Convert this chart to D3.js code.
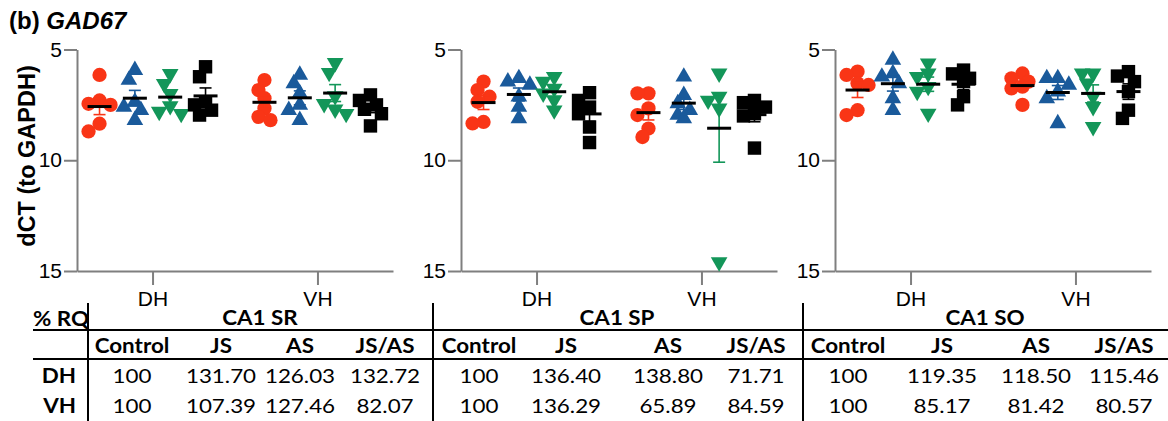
<!DOCTYPE html>
<html lang="en">
<head>
    <meta charset="UTF-8">
    <title>GAD67</title>
    <script src="https://d3js.org/d3.v7.min.js"></script>
    <style>
        body {
            margin: 0;
            background: #fff;
        }
        .axis path, .axis line {
            stroke: #7f7f7f;
            stroke-width: 2;
        }
        .axis text {
            font-family: "Liberation Sans", Arial, sans-serif;
            font-size: 21px;
            fill: #000;
        }
    </style>
</head>
<body>
    <div id="chart"></div>

    <script>
        // categories
        const regions = ["CA1 SR", "CA1 SP", "CA1 SO"];
        const sites = ["DH", "VH"];
        const groups = ["Control", "JS", "AS", "JS/AS"];
        const yTicks = [5, 10, 15];

        // dCT values per region: [site][group] -> animals
        const dctSR = [
            [[6.15, 7.3, 7.45, 7.5, 8.35, 8.7],
             [5.93, 6.38, 7.36, 7.59, 7.74, 8.19],
             [6.1, 6.55, 7.0, 7.55, 7.8, 7.9],
             [5.78, 6.23, 7.36, 7.5, 7.74, 7.96]],
            [[6.38, 6.83, 7.2, 7.66, 8.04, 8.19],
             [6.15, 6.53, 6.98, 7.5, 7.74, 8.19],
             [5.6, 6.05, 7.1, 7.45, 7.7, 7.9],
             [7.05, 7.3, 7.5, 7.7, 7.9, 8.45]]
        ];
        const dctSP = [
            [[6.45, 6.83, 7.13, 7.36, 8.27, 8.34],
             [6.3, 6.45, 6.6, 7.13, 7.59, 8.11],
             [6.23, 6.45, 6.76, 6.98, 7.28, 7.74],
             [6.95, 7.3, 7.6, 7.9, 8.5, 9.2]],
            [[6.98, 6.98, 7.66, 7.96, 8.57, 8.95],
             [6.23, 7.06, 7.43, 7.74, 7.96, 8.11],
             [6.08, 7.13, 7.3, 7.66, 14.6],
             [7.3, 7.4, 7.6, 7.9, 8.0, 9.45]]
        ];
        const dctSO = [
            [[6.0, 6.15, 6.53, 6.6, 7.74, 7.96],
             [5.47, 6.08, 6.23, 6.53, 7.21, 7.74],
             [5.62, 6.08, 6.23, 6.68, 6.9, 7.89],
             [5.93, 6.1, 6.3, 6.45, 7.13, 7.5]],
            [[6.08, 6.3, 6.45, 6.68, 6.76, 7.5],
             [6.3, 6.3, 6.6, 6.9, 7.21, 8.34],
             [6.08, 6.08, 6.53, 7.13, 7.59, 8.49],
             [6.0, 6.2, 6.45, 6.9, 7.74, 8.11]]
        ];

        // % RQ table: [site][group]
        const rqSR = [[100, 131.70, 126.03, 132.72], [100, 107.39, 127.46, 82.07]];
        const rqSP = [[100, 136.40, 138.80, 71.71], [100, 136.29, 65.89, 84.59]];
        const rqSO = [[100, 119.35, 118.50, 115.46], [100, 85.17, 81.42, 80.57]];

        const dctAll = [dctSR, dctSP, dctSO];
        const rqAll = [rqSR, rqSP, rqSO];

        const colors = ["#f93516", "#1a5a9b", "#139659", "#000000"];
        const shapes = [d3.symbolCircle, d3.symbolTriangle, d3.symbolTriangle, d3.symbolSquare];
        const sizes = [160, 120, 120, 180];
        const turns = [0, 0, 180, 0];

        const width = 1168;
        const height = 421;
        const panelX = [77, 461, 835];
        const panelW = 316;

        const svg = d3.select("#chart")
            .append("svg")
            .attr("width", width)
            .attr("height", height);

        const y = d3.scaleLinear().domain([5, 15]).range([49.5, 271]);

        // Titolo
        const title = svg.append("text")
            .attr("x", 9)
            .attr("y", 29)
            .attr("font-family", "'Liberation Sans', Arial, sans-serif")
            .attr("font-size", "24px")
            .attr("font-weight", "bold");
        title.append("tspan").text("(b) ");
        title.append("tspan").attr("font-style", "italic").text("GAD67");

        svg.append("text")
            .attr("transform", "translate(35,156) rotate(-90)")
            .attr("text-anchor", "middle")
            .attr("font-family", "'Liberation Sans', Arial, sans-serif")
            .attr("font-size", "23.5px")
            .attr("font-weight", "bold")
            .text("dCT (to GAPDH)");

        // spread points of one column sideways when they overlap
        function dodge(values) {
            const slots = [0, -6, 6, -11, 11];
            const placed = [];
            return values.map(v => {
                const py = y(v);
                const dx = slots.find(s => placed.every(p => Math.hypot(p.dx - s, p.py - py) > 10)) ?? 0;
                placed.push({ dx, py });
                return { v, dx };
            });
        }

        dctAll.forEach((region, p) => {
            const g = svg.append("g").attr("transform", `translate(${panelX[p]},0)`);

            const x = d3.scalePoint().domain(sites).range([0, panelW]).padding(0.458);
            const col = d3.scalePoint().domain(groups).range([-53, 53]);

            g.append("g")
                .attr("class", "axis")
                .call(d3.axisLeft(y).tickValues(yTicks).tickSize(13).tickSizeOuter(0).tickPadding(2));

            g.append("g")
                .attr("class", "axis")
                .attr("transform", `translate(0,${y(15)})`)
                .call(d3.axisBottom(x).tickSize(14).tickSizeOuter(0).tickPadding(6));

            sites.forEach((site, si) => {
                groups.forEach((grp, gi) => {
                    const vals = region[si][gi];
                    const cx = x(site) + col(grp);
                    const sym = d3.symbol().type(shapes[gi]).size(sizes[gi]);

                    // Punti
                    g.selectAll(null)
                        .data(dodge(vals))
                        .enter()
                        .append("path")
                        .attr("d", sym)
                        .attr("fill", colors[gi])
                        .attr("transform", d => `translate(${cx + d.dx},${y(d.v)}) rotate(${turns[gi]})`);

                    // media e SEM
                    const mean = d3.mean(vals);
                    const sem = d3.deviation(vals) / Math.sqrt(vals.length);
                    const eb = g.append("g").attr("stroke", colors[gi]).attr("stroke-width", 1.6);
                    eb.append("line")
                        .attr("x1", cx).attr("x2", cx)
                        .attr("y1", y(mean - sem)).attr("y2", y(mean + sem));
                    [mean - sem, mean + sem].forEach(m => {
                        eb.append("line")
                            .attr("x1", cx - 6).attr("x2", cx + 6)
                            .attr("y1", y(m)).attr("y2", y(m));
                    });
                    g.append("line")
                        .attr("x1", cx - 12).attr("x2", cx + 12)
                        .attr("y1", y(mean)).attr("y2", y(mean))
                        .attr("stroke", "#000")
                        .attr("stroke-width", 3);
                });
            });
        });

        // Tabella % RQ
        const tbl = svg.append("g")
            .attr("font-family", "Lato, 'Open Sans', sans-serif")
            .attr("font-size", "20px")
            .attr("fill", "#000");
        const sx = 1.12;
        const vLines = [88, 433, 803];
        const regionCx = [260, 617, 985];
        const colCx = [[132, 221, 300, 385], [479, 566, 668, 756], [848, 942, 1036, 1124]];
        const rowY = [383, 413];

        function put(x0, y0, str, anchor, bold) {
            tbl.append("text")
                .attr("transform", `translate(${x0},${y0}) scale(${sx},1)`)
                .attr("text-anchor", anchor)
                .attr("font-weight", bold ? "bold" : "normal")
                .text(str);
        }

        [330, 359].forEach(ly => {
            tbl.append("line")
                .attr("x1", 33).attr("x2", width)
                .attr("y1", ly).attr("y2", ly)
                .attr("stroke", "#000").attr("stroke-width", 2);
        });
        vLines.forEach(lx => {
            tbl.append("line")
                .attr("x1", lx).attr("x2", lx)
                .attr("y1", 303).attr("y2", height)
                .attr("stroke", "#000").attr("stroke-width", 2);
        });

        put(33, 326, "% RQ", "start", true);
        sites.forEach((s, si) => put(76, rowY[si], s, "end", true));

        rqAll.forEach((rq, p) => {
            put(regionCx[p], 325, regions[p], "middle", true);
            groups.forEach((grp, gi) => {
                put(colCx[p][gi], 353, grp, "middle", true);
                rq.forEach((row, si) => {
                    const v = row[gi];
                    put(colCx[p][gi], rowY[si], v === 100 ? "100" : v.toFixed(2), "middle", false);
                });
            });
        });
    </script>
</body>
</html>
